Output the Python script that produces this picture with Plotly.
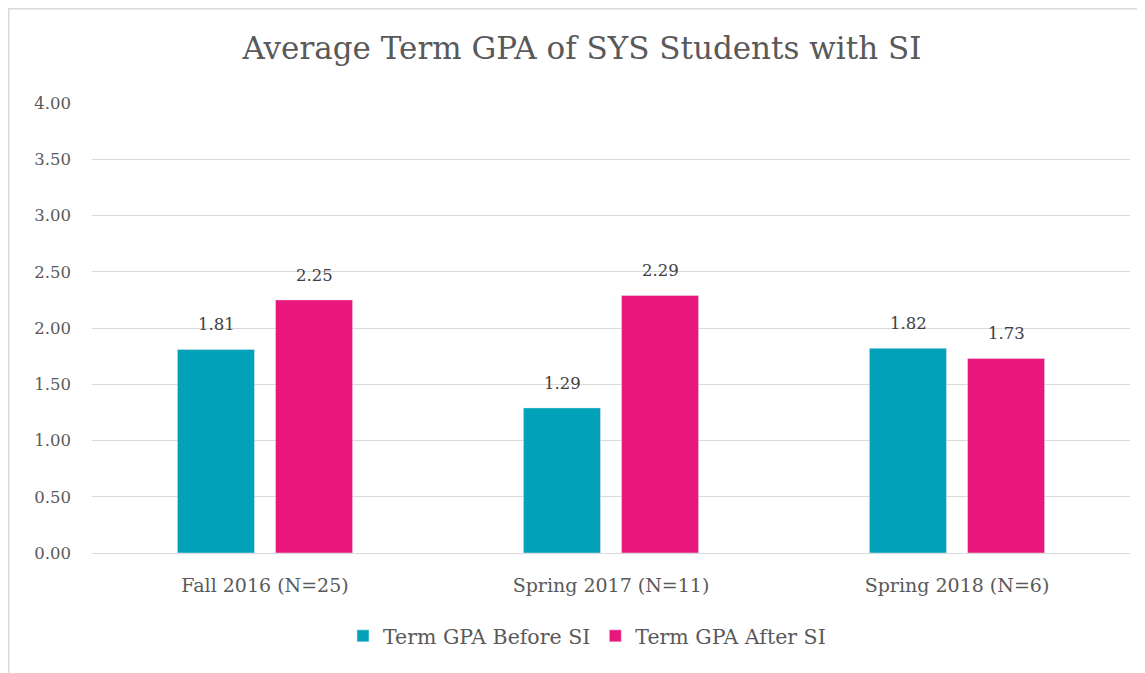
import plotly.graph_objects as go

categories = ["Fall 2016 (N=25)", "Spring 2017 (N=11)", "Spring 2018 (N=6)"]
before_si = [1.81, 1.29, 1.82]
after_si = [2.25, 2.29, 1.73]
series_names = ["Term GPA Before SI", "Term GPA After SI"]
y_ticks = [0, 0.5, 1.0, 1.5, 2.0, 2.5, 3.0, 3.5, 4.0]

TEAL = "#00A1B9"
PINK = "#E9177B"
FONT = "DejaVu Serif"
GREY = "#595959"

# page offset (body margin) of 8px
OFF = 8
L, R_EDGE, T, B_EDGE = 92 - OFF, 1130 - OFF, 103 - OFF, 553 - OFF
PW, PH = R_EDGE - L, B_EDGE - T

fig = go.Figure()
fig.add_trace(go.Bar(x=categories, y=before_si, name=series_names[0], marker_color=TEAL))
fig.add_trace(go.Bar(x=categories, y=after_si, name=series_names[1], marker_color=PINK))

annotations = []
for vals, shift in ((before_si, -49), (after_si, 49)):
    for c, v in zip(categories, vals):
        annotations.append(dict(x=c, y=v, xref="x", yref="y", text=f"{v:.2f}",
                                showarrow=False, xshift=shift, yshift=13, yanchor="bottom",
                                font=dict(family=FONT, size=16.5, color="#404040")))

fig.update_layout(
    width=1145, height=673,
    margin=dict(l=L, r=1145 - R_EDGE, t=T, b=673 - B_EDGE, autoexpand=False),
    paper_bgcolor="white", plot_bgcolor="white",
    barmode="group", bargap=0.433, bargroupgap=0.214,
    title=dict(text="Average Term GPA of SYS Students with SI", x=(582 - OFF) / 1145,
               xref="container", xanchor="center",
               y=1 - (48 - OFF) / 673, yref="container", yanchor="middle",
               font=dict(family=FONT, size=31, color=GREY)),
    font=dict(family=FONT, color=GREY),
    legend=dict(orientation="h", x=(587 - 92) / 1038, xanchor="center",
                y=-(636 - 553) / 450, yanchor="middle", font=dict(size=20.5, color=GREY),
                traceorder="normal", itemwidth=30),
    annotations=annotations,
    showlegend=True,
)
fig.update_yaxes(range=[0, 4.0], tickvals=y_ticks, tickformat=".2f",
                 showgrid=True, gridcolor="#d9d9d9", gridwidth=1,
                 zeroline=True, zerolinecolor="#d9d9d9", zerolinewidth=1,
                 tickfont=dict(family=FONT, size=16.5, color=GREY),
                 ticklabelstandoff=20, showline=False)
fig.update_xaxes(tickfont=dict(family=FONT, size=19, color=GREY), ticklabelstandoff=19,
                 tickangle=0, showline=False, showgrid=False)

# chart border (at the figure's top-left edge, continuing past the right/bottom)
fig.add_shape(type="rect", xref="paper", yref="paper",
              x0=(0 - L) / PW, x1=(1160 - L) / PW,
              y0=-(700 - B_EDGE) / PH, y1=1 + (T - 0) / PH,
              line=dict(color="#d9d9d9", width=3), fillcolor="rgba(0,0,0,0)", layer="below")

fig.write_html("out.html")
